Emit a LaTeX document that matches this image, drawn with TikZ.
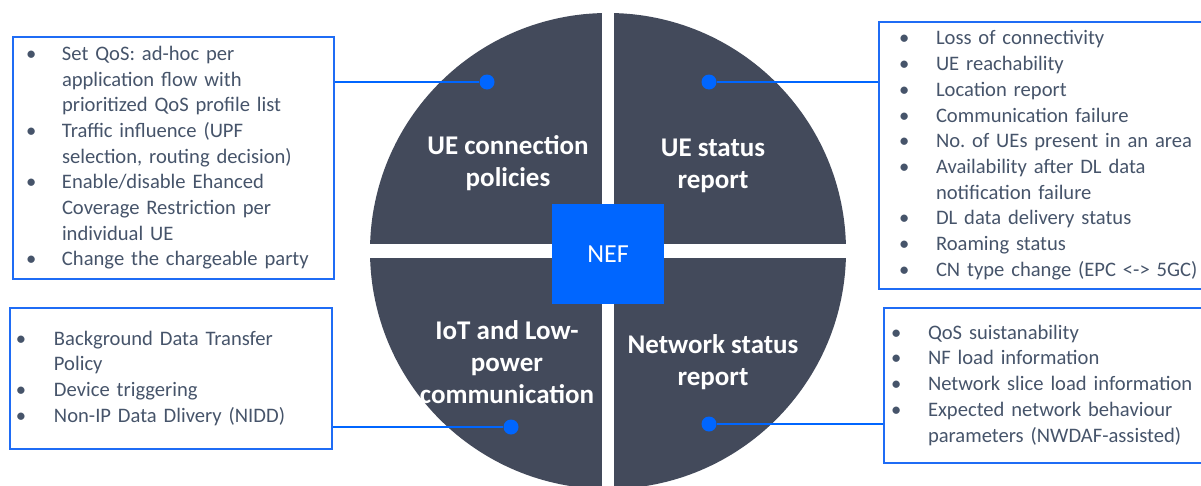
\documentclass[tikz,border=0pt]{standalone}
\usepackage{fontspec}
\setmainfont{Carlito}
\usepackage{array}
\frenchspacing

\definecolor{quadgray}{HTML}{434A5B}
\definecolor{nefblue}{HTML}{0066FF}
\definecolor{boxblue}{HTML}{1F6CF5}
\definecolor{listgray}{HTML}{46546A}

\begin{document}
\begin{tikzpicture}[x=1pt,y=-1pt,
  quad/.style={fill=quadgray},
  title/.style={text=white,align=center,font=\fontsize{27}{32}\selectfont\bfseries},
  infobox/.style={draw=boxblue,line width=2pt,anchor=north west,align=left,
    inner ysep=0pt,text=listgray,font=\fontsize{20.6}{25.7}\selectfont},
  dot/.style={circle,fill=nefblue,inner sep=0pt,minimum size=15pt},
  link/.style={draw=nefblue,line width=2pt}]
\useasboundingbox (0,0) rectangle (1201,485);
\clip (0,0) rectangle (1201,485);

% Four quadrants of the disc
\begin{scope}
\clip (608,251) circle[radius=238];
\fill[quad] (360,0) rectangle (602,244);
\fill[quad] (614,0) rectangle (860,244);
\fill[quad] (360,258) rectangle (602,500);
\fill[quad] (614,258) rectangle (860,500);
\end{scope}

% Centre block
\node[fill=nefblue,text=white,minimum width=112pt,minimum height=100pt,
  font=\fontsize{26}{31}\selectfont] (nef) at (608,254) {NEF};

% Quadrant titles
\node[title] (tUL) at (508,163) {UE connection\\policies};
\node[title] (tUR) at (713,166) {UE status\\report};
\node[title] (tLL) at (507,362) {IoT and Low-\\power\\communication};
\node[title] (tLR) at (713,362) {Network status\\report};

% Lists
\node[infobox,text width=295pt,inner xsep=13pt,minimum height=242pt] (boxUL) at (12,36) {%
\raisebox{-3pt}{\begin{tabular}{@{}p{36pt}@{}l@{}}
\textbullet & Set QoS: ad-hoc per\\
 & application flow with\\
 & prioritized QoS profile list\\
\textbullet & Traffic influence (UPF\\
 & selection, routing decision)\\
\textbullet & Enable/disable Ehanced\\
 & Coverage Restriction per\\
 & individual UE\\
\textbullet & Change the chargeable party
\end{tabular}}};

\node[infobox,text width=287pt,inner xsep=20pt,minimum height=267pt] (boxUR) at (878,21) {%
\begin{tabular}{@{}p{37pt}@{}l@{}}
\textbullet & Loss of connectivity\\
\textbullet & UE reachability\\
\textbullet & Location report\\
\textbullet & Communication failure\\
\textbullet & No. of UEs present in an area\\
\textbullet & Availability after DL data\\
 & notification failure\\
\textbullet & DL data delivery status\\
\textbullet & Roaming status\\
\textbullet & CN type change (EPC <-> 5GC)
\end{tabular}};

\node[infobox,text width=310pt,inner xsep=6pt,minimum height=141pt] (boxLL) at (9,307) {%
\raisebox{-2pt}{\begin{tabular}{@{}p{38pt}@{}l@{}}
\textbullet & Background Data Transfer\\
 & Policy\\
\textbullet & Device triggering\\
\textbullet & Non-IP Data Dlivery (NIDD)
\end{tabular}}};

\node[infobox,text width=308pt,inner xsep=7pt,minimum height=155pt] (boxLR) at (883,307) {%
\raisebox{2pt}{\begin{tabular}{@{}p{37pt}@{}l@{}}
\textbullet & QoS suistanability\\
\textbullet & NF load information\\
\textbullet & Network slice load information\\
\textbullet & Expected network behaviour\\
 & parameters (NWDAF-assisted)
\end{tabular}}};

% Markers and leader lines
\node[dot] (dUL) at (487,82) {};
\node[dot] (dUR) at (709,82) {};
\node[dot] (dLL) at (511,427) {};
\node[dot] (dLR) at (709,424) {};
\draw[link] (dUL) -- (dUL -| boxUL.east);
\draw[link] (dUR) -- (dUR -| boxUR.west);
\draw[link] (dLL) -- (dLL -| boxLL.east);
\draw[link] (dLR) -- (dLR -| boxLR.west);
\end{tikzpicture}
\end{document}
